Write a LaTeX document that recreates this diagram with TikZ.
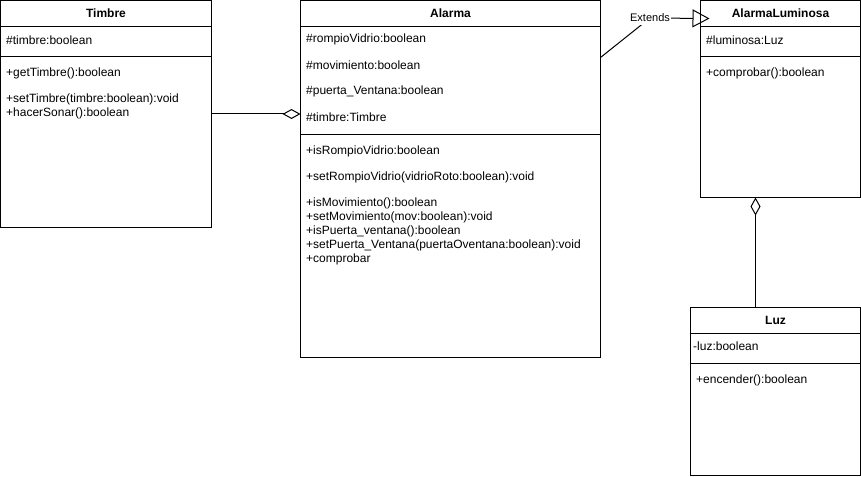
\documentclass[tikz,border=0pt]{standalone}
\usepackage{fontspec}
\setmainfont{Liberation Sans}
\usetikzlibrary{arrows.meta, positioning, calc}

\begin{document}
\begin{tikzpicture}[x=1pt, y=-1pt,
      classbox/.style={draw, line width=1pt, anchor=north west,
                       inner sep=0pt, outer sep=0pt},
      title/.style={inner sep=0pt, font=\fontsize{12}{14}\selectfont\bfseries},
      member/.style={anchor=west, inner sep=0pt, align=left,
                     font=\fontsize{12}{14}\selectfont},
      sep/.style={line width=1pt},
      agg/.style={-{Diamond[open, length=18pt, width=10pt]}, line width=1pt},
      ext/.style={-{Triangle[open, length=17pt, width=18pt]}, line width=1pt},
      lbl/.style={fill=white, inner xsep=1pt, inner ysep=2.5pt,
                  font=\fontsize{11}{13}\selectfont},
    ]
    \useasboundingbox (0,0) rectangle (861,476);

    % ── Class boxes ──
    \node[classbox, minimum width=211pt, minimum height=227pt] (timbre)    at (0.5,0.5)   {};
    \node[classbox, minimum width=300pt, minimum height=357pt] (alarma)    at (300.5,0.5) {};
    \node[classbox, minimum width=160pt, minimum height=197pt] (aluminosa) at (700.5,0.5) {};
    \node[classbox, minimum width=170pt, minimum height=168pt] (luz)       at (690.5,307) {};

    % ── Timbre ──
    \node[title] (timbreT) at ($(timbre.north)+(0,13)$) {Timbre};
    \draw[sep] ($(timbre.north west)+(0,26)$) -- ($(timbre.north east)+(0,26)$);
    \draw[sep] ($(timbre.north west)+(0,56)$) -- ($(timbre.north east)+(0,56)$);
    \node[member] (timbreA1) at ($(timbre.north west)+(5.5,40)$) {\#timbre:boolean};
    \node[member] (timbreM1) at ($(timbre.north west)+(5.5,73)$) {+getTimbre():boolean};
    \node[member] (timbreM2) at ($(timbre.north west)+(5.5,106)$)
          {+setTimbre(timbre:boolean):void\\+hacerSonar():boolean};

    % ── Alarma ──
    \node[title] (alarmaT) at ($(alarma.north)+(0,13)$) {Alarma};
    \draw[sep] ($(alarma.north west)+(0,26)$)  -- ($(alarma.north east)+(0,26)$);
    \draw[sep] ($(alarma.north west)+(0,134)$) -- ($(alarma.north east)+(0,134)$);
    \node[member] (alarmaA1) at ($(alarma.north west)+(5.5,39)$)  {\#rompioVidrio:boolean};
    \node[member] (alarmaA2) at ($(alarma.north west)+(5.5,65)$)  {\#movimiento:boolean};
    \node[member] (alarmaA3) at ($(alarma.north west)+(5.5,91)$)  {\#puerta\_Ventana:boolean};
    \node[member] (alarmaA4) at ($(alarma.north west)+(5.5,117)$) {\#timbre:Timbre};
    \node[member] (alarmaM1) at ($(alarma.north west)+(5.5,151)$) {+isRompioVidrio:boolean};
    \node[member] (alarmaM2) at ($(alarma.north west)+(5.5,177)$)
          {+setRompioVidrio(vidrioRoto:boolean):void};
    \node[member] (alarmaM3) at ($(alarma.north west)+(5.5,231)$)
          {+isMovimiento():boolean\\+setMovimiento(mov:boolean):void\\
           +isPuerta\_ventana():boolean\\
           +setPuerta\_Ventana(puertaOventana:boolean):void\\+comprobar};

    % ── AlarmaLuminosa ──
    \node[title] (aluminosaT) at ($(aluminosa.north)+(0,13)$) {AlarmaLuminosa};
    \draw[sep] ($(aluminosa.north west)+(0,26)$) -- ($(aluminosa.north east)+(0,26)$);
    \draw[sep] ($(aluminosa.north west)+(0,56)$) -- ($(aluminosa.north east)+(0,56)$);
    \node[member] (aluminosaA1) at ($(aluminosa.north west)+(5.5,40)$) {\#luminosa:Luz};
    \node[member] (aluminosaM1) at ($(aluminosa.north west)+(5.5,73)$) {+comprobar():boolean};

    % ── Luz ──
    \node[title] (luzT) at ($(luz.north)+(0,13)$) {Luz};
    \draw[sep] ($(luz.north west)+(0,26)$) -- ($(luz.north east)+(0,26)$);
    \draw[sep] ($(luz.north west)+(0,56)$) -- ($(luz.north east)+(0,56)$);
    \node[member] (luzA1) at ($(luz.north west)+(2.5,39)$) {-luz:boolean};
    \node[member] (luzM1) at ($(luz.north west)+(5.5,73)$) {+encender():boolean};

    % ── Relations ──
    \draw[agg] (timbre.east) -- (timbre.east -| alarma.west);

    \coordinate (bend) at (650,18);
    \draw[ext] ($(alarma.north east)+(0,57)$) -- (bend)
      node[lbl] (extL) {Extends}
      -- ($(aluminosa.north west)+(9,18)$);

    \coordinate (lz) at ($(luz.north west)+(65,0)$);
    \draw[agg] (lz) -- (lz |- aluminosa.south);
  \end{tikzpicture}
\end{document}
